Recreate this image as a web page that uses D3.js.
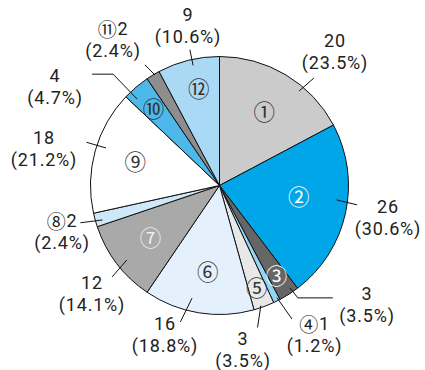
<!DOCTYPE html>
<html>
<head>
<meta charset="utf-8">
<script src="https://cdn.jsdelivr.net/npm/d3@7"></script>
<style>
  html, body { margin: 0; padding: 0; background: #fff; }
  svg { display: block; }
</style>
</head>
<body>
<svg id="chart" width="425" height="370"></svg>
<script>
// Answer categories, their counts and the printed shares
const categories = ["①", "②", "③", "④", "⑤", "⑥", "⑦", "⑧", "⑨", "⑩", "⑪", "⑫"];
const counts = [20, 26, 3, 1, 3, 16, 12, 2, 18, 4, 2, 9];
const shareLabels = ["23.5%", "30.6%", "3.5%", "1.2%", "3.5%", "18.8%", "14.1%", "2.4%", "21.2%", "4.7%", "2.4%", "10.6%"];
// Categories whose marker is printed with the count instead of inside the slice
const markerWithCount = [false, false, false, true, false, false, false, true, false, false, true, false];

// Slice fills and marker colours
const fills = ["#cbcbcb", "#00a6e8", "#666666", "#96d3f5", "#e8e8e8", "#e4f1fc",
               "#a9a9a9", "#cde8f8", "#ffffff", "#4cb9ea", "#8e8e8e", "#aad9f6"];
const markerColors = ["#333", "#fff", "#fff", "#333", "#333", "#333",
                      "#eee", "#333", "#333", "#333", "#333", "#333"];

// Label layout: marker radius/angle tweak, leader (angles in degrees, radii in px), text offset from centre
const layout = [
  { mr: 87,  ma: 0,   lead: [40.1, 123.5, 41.3, 143], text: [115.5, -145.5] },
  { mr: 80,  ma: -5,  lead: [97, 118, 98, 139],       text: [168.5, 20.5] },
  { mr: 106, ma: 0,   lead: [145.5, 124, 145.1, 137], elbow: 35,  text: [147.5, 107.5] },
  { mr: 0,   ma: 0,   lead: [152.9, 126, 151.5, 152], text: [95, 137.5] },
  { mr: 108, ma: 0,   lead: [161, 127, 165, 147],     text: [23.5, 152.5] },
  { mr: 86,  ma: -1.5, lead: [193.7, 116, 196, 142],  text: [-54.5, 137.5] },
  { mr: 86,  ma: 0.7, lead: [231.2, 119, 229.6, 141], text: [-127.5, 96.5] },
  { mr: 0,   ma: 0,   lead: [253.6, 122, 255, 144],   text: [-157.5, 34.5] },
  { mr: 88,  ma: 1.3, lead: [288.3, 119.5, 288, 140], text: [-175.5, -48.5] },
  { mr: 102, ma: 0,   lead: [316.4, 119.5, 316.3, 154], elbow: -21, text: [-164.5, -110.5] },
  { mr: 0,   ma: 0,   lead: [329.7, 128, 328.3, 141.7], text: [-106.5, -157.5] },
  { mr: 100, ma: 2,   lead: [347.6, 123, 347.7, 139], text: [-31.5, -171.5] }
];

const svg = d3.select("#chart");
const cx = 219.5, cy = 185.5, R = 129;
const g = svg.append("g").attr("transform", `translate(${cx},${cy})`);

const data = categories.map((c, i) => ({ cat: c, value: counts[i], i }));
const pie = d3.pie().value(d => d.value).sort(null);
const arcs = pie(data);
const arc = d3.arc().innerRadius(0).outerRadius(R);

// Slices
g.selectAll("path.slice")
  .data(arcs)
  .join("path")
  .attr("class", "slice")
  .attr("d", arc)
  .attr("fill", d => fills[d.data.i])
  .attr("stroke", "#111")
  .attr("stroke-width", 1)
  .attr("stroke-linejoin", "round");

const polar = (deg, r) => {
  const a = deg * Math.PI / 180;
  return [r * Math.sin(a), -r * Math.cos(a)];
};

// Markers inside slices
g.selectAll("text.marker")
  .data(arcs.filter(d => !markerWithCount[d.data.i]))
  .join("text")
  .attr("class", "marker")
  .attr("transform", d => {
    const L = layout[d.data.i];
    const mid = (d.startAngle + d.endAngle) / 2 * 180 / Math.PI + L.ma;
    const p = polar(mid, L.mr);
    return `translate(${p[0]},${p[1]})`;
  })
  .attr("text-anchor", "middle")
  .attr("dominant-baseline", "central")
  .attr("font-family", "'Noto Sans CJK JP', sans-serif")
  .attr("font-size", 21.5)
  .attr("fill", d => markerColors[d.data.i])
  .text(d => d.data.cat);

// Leader lines
g.selectAll("path.leader")
  .data(arcs)
  .join("path")
  .attr("class", "leader")
  .attr("fill", "none")
  .attr("stroke", "#111")
  .attr("stroke-width", 1)
  .attr("d", d => {
    const L = layout[d.data.i];
    const p1 = polar(L.lead[0], L.lead[1]);
    const p2 = polar(L.lead[2], L.lead[3]);
    const pts = [p1, p2];
    if (L.elbow) pts.push([p2[0] + L.elbow, p2[1]]);
    return d3.line()(pts);
  });

// Count and share labels
const labels = g.selectAll("g.label")
  .data(arcs)
  .join("g")
  .attr("class", "label")
  .attr("transform", d => `translate(${layout[d.data.i].text[0]},${layout[d.data.i].text[1]})`)
  .attr("font-family", "Roboto, 'Noto Sans CJK JP', sans-serif")
  .attr("font-size", 18)
  .attr("fill", "#222")
  .attr("text-anchor", "middle")
  .attr("letter-spacing", 0.8);

const first = labels.append("text")
  .attr("dominant-baseline", "central");
first.filter(d => markerWithCount[d.data.i])
  .append("tspan")
  .attr("font-family", "'Noto Sans CJK JP', sans-serif")
  .attr("font-size", 19)
  .text(d => d.data.cat);
first.append("tspan")
  .text(d => d.data.value);

labels.append("text")
  .attr("y", 22.5)
  .attr("dominant-baseline", "central")
  .text(d => "(" + shareLabels[d.data.i] + ")");
</script>
</body>
</html>
